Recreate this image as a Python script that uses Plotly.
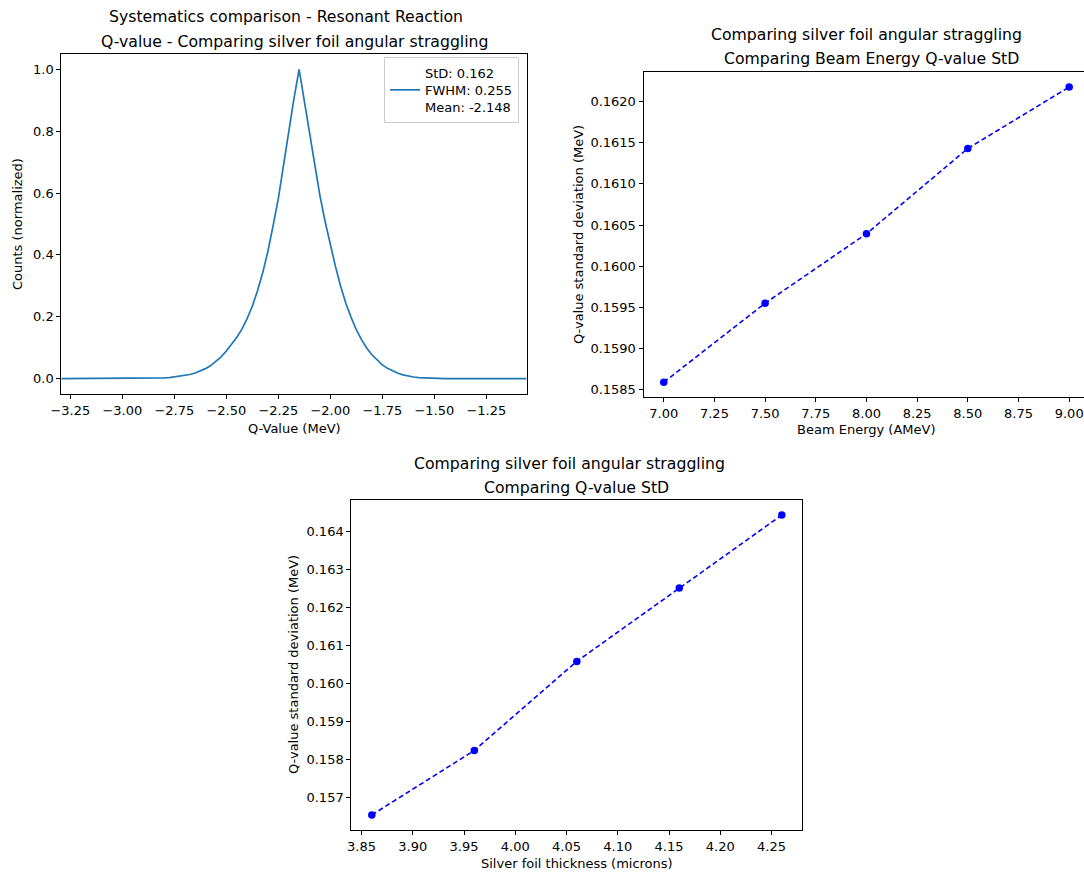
import plotly.graph_objects as go

# ---------------- data ----------------
q_value = [-3.293, -2.95, -2.85, -2.825, -2.80, -2.775, -2.75, -2.725, -2.70, -2.675, -2.65,
           -2.625, -2.60, -2.575, -2.55, -2.525, -2.50, -2.475, -2.45, -2.425, -2.40,
           -2.375, -2.35, -2.325, -2.30, -2.275, -2.25, -2.225, -2.20, -2.175, -2.15,
           -2.125, -2.10, -2.075, -2.05, -2.025, -2.00, -1.975, -1.95, -1.925, -1.90,
           -1.875, -1.85, -1.825, -1.80, -1.775, -1.75, -1.725, -1.70, -1.675, -1.65,
           -1.625, -1.60, -1.575, -1.55, -1.50, -1.45, -1.30, -1.057]
counts = [0.0, 0.0, 0.0, 0.001, 0.002, 0.003, 0.005, 0.007, 0.010, 0.013, 0.018,
          0.024, 0.032, 0.042, 0.055, 0.070, 0.089, 0.110, 0.133, 0.160, 0.194,
          0.234, 0.284, 0.342, 0.412, 0.495, 0.582, 0.690, 0.800, 0.905, 1.000,
          0.900, 0.790, 0.690, 0.592, 0.508, 0.432, 0.362, 0.298, 0.243, 0.198,
          0.158, 0.126, 0.099, 0.077, 0.059, 0.044, 0.033, 0.024, 0.017, 0.012,
          0.008, 0.005, 0.003, 0.002, 0.001, 0.0, 0.0, 0.0]
legend_label = "StD: 0.162<br>FWHM: 0.255<br>Mean: -2.148"

beam_energy = [7.0, 7.5, 8.0, 8.5, 9.0]
std_beam = [0.158592, 0.159551, 0.160394, 0.161429, 0.162174]

foil_thickness = [3.86, 3.96, 4.06, 4.16, 4.26]
std_foil = [0.156541, 0.158239, 0.160585, 0.162515, 0.164440]

x1_ticks = [-3.25, -3.0, -2.75, -2.5, -2.25, -2.0, -1.75, -1.5, -1.25]
x1_ticktext = ["\u22123.25", "\u22123.00", "\u22122.75", "\u22122.50", "\u22122.25",
               "\u22122.00", "\u22121.75", "\u22121.50", "\u22121.25"]
y1_ticks = [0.0, 0.2, 0.4, 0.6, 0.8, 1.0]
x2_ticks = [7.0, 7.25, 7.5, 7.75, 8.0, 8.25, 8.5, 8.75, 9.0]
y2_ticks = [0.1585, 0.1590, 0.1595, 0.1600, 0.1605, 0.1610, 0.1615, 0.1620]
x3_ticks = [3.85, 3.90, 3.95, 4.00, 4.05, 4.10, 4.15, 4.20, 4.25]
y3_ticks = [0.157, 0.158, 0.159, 0.160, 0.161, 0.162, 0.163, 0.164]

# ---------------- layout helpers ----------------
W, H = 1084, 873
FONT = "DejaVu Sans"
TICK = 13
TITLE = 15.7


def fx(p):
    return p / W


def fy(p):
    return 1 - p / H


fig = go.Figure()

fig.add_trace(go.Scatter(x=q_value, y=counts, mode="lines", name=legend_label,
                         line=dict(color="#1f77b4", width=1.7),
                         xaxis="x", yaxis="y", showlegend=True, cliponaxis=True))
fig.add_trace(go.Scatter(x=beam_energy, y=std_beam, mode="lines+markers",
                         line=dict(color="#0000ff", width=1.6, dash="5px,3px"),
                         marker=dict(color="#0000ff", size=7.5),
                         xaxis="x2", yaxis="y2", showlegend=False, cliponaxis=False))
fig.add_trace(go.Scatter(x=foil_thickness, y=std_foil, mode="lines+markers",
                         line=dict(color="#0000ff", width=1.6, dash="5px,3px"),
                         marker=dict(color="#0000ff", size=7.5),
                         xaxis="x3", yaxis="y3", showlegend=False, cliponaxis=False))

axis_common = dict(showline=True, linecolor="black", linewidth=1, ticks="outside",
                   ticklen=4, tickwidth=1, tickcolor="black", showgrid=False,
                   zeroline=False, automargin=False,
                   tickfont=dict(family=FONT, size=TICK, color="black"))

fig.update_layout(
    template="none",
    width=W, height=H,
    margin=dict(l=0, r=0, t=0, b=0, pad=0, autoexpand=False),
    paper_bgcolor="white", plot_bgcolor="white",
    font=dict(family=FONT, size=TICK, color="black"),
    xaxis=dict(domain=[fx(61.3), fx(526.5)], range=[-3.2933, -1.0568],
               tickvals=x1_ticks, ticktext=x1_ticktext, mirror=True, anchor="y",
               **axis_common),
    yaxis=dict(domain=[fy(394), fy(54)], range=[-0.05, 1.05], tickvals=y1_ticks,
               tickformat=".1f", mirror=True, anchor="x", **axis_common),
    xaxis2=dict(domain=[fx(643.5), 1.0], range=[6.9, 6.9 + (W - 643.5) / 202.7],
                tickvals=x2_ticks, tickformat=".2f", mirror=True, anchor="y2",
                **axis_common),
    yaxis2=dict(domain=[fy(397), fy(72.3)], range=[0.158413, 0.162353],
                tickvals=y2_ticks, tickformat=".4f", mirror=False, anchor="x2",
                **axis_common),
    xaxis3=dict(domain=[fx(351.3), fx(802.3)], range=[3.84, 4.28],
                tickvals=x3_ticks, tickformat=".2f", mirror=True, anchor="y3",
                **axis_common),
    yaxis3=dict(domain=[fy(830), fy(500)], range=[0.156145, 0.164835],
                tickvals=y3_ticks, tickformat=".3f", mirror=True, anchor="x3",
                **axis_common),
    legend=dict(x=fx(519), y=fy(57), xanchor="right", yanchor="top",
                bordercolor="#cccccc", borderwidth=1,
                bgcolor="rgba(255,255,255,0.8)",
                font=dict(family=FONT, size=TICK, color="black"),
                valign="middle"),
)


def text(s, x, y, size=TITLE, angle=0):
    fig.add_annotation(text=s, x=fx(x), y=fy(y), xref="paper", yref="paper",
                       showarrow=False, xanchor="center", yanchor="middle",
                       textangle=angle, font=dict(family=FONT, size=size, color="black"))


# titles
text("Systematics comparison - Resonant Reaction", 286, 16)
text("Q-value - Comparing silver foil angular straggling", 294, 41)
text("Comparing silver foil angular straggling", 866, 35)
text("Comparing Beam Energy Q-value StD", 871, 59)
text("Comparing silver foil angular straggling", 569, 463)
text("Comparing Q-value StD", 576, 487)

# axis labels
text("Q-Value (MeV)", 294, 428, size=TICK)
text("Counts (normalized)", 18, 224, size=TICK, angle=-90)
text("Beam Energy (AMeV)", 866, 429, size=TICK)
text("Q-value standard deviation (MeV)", 579, 235, size=TICK, angle=-90)
text("Silver foil thickness (microns)", 577, 863, size=TICK)
text("Q-value standard deviation (MeV)", 293, 665, size=TICK, angle=-90)

fig.write_html("out.html")
